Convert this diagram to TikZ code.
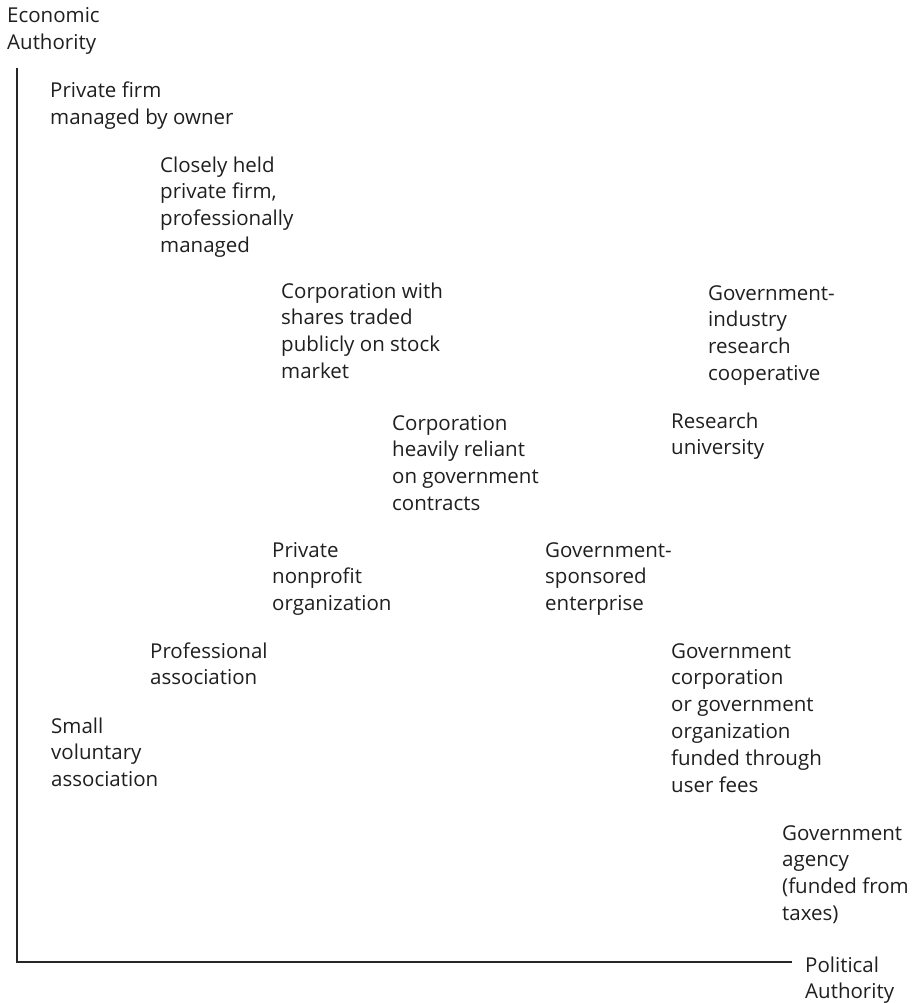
\documentclass[tikz,border=0pt]{standalone}
\usepackage{fontspec}
\setmainfont{Open Sans}
% stack of left-aligned lines whose reference point is the first baseline
\newcommand{\linestack}[1]{\vtop{\halign{##\hfil\cr#1\crcr}}}
\begin{document}
\begin{tikzpicture}[x=1pt,y=-1pt,
  lbl/.style={anchor=base west,inner sep=0pt,font=\fontsize{20.5}{26.8}\selectfont,text=black!88},
  axis/.style={line width=1.3pt,draw=black!85}]
\useasboundingbox (0,0) rectangle (914,1003);
% axes
\coordinate (top) at (17,68);
\coordinate (origin) at (17,962);
\coordinate (right) at (792,962);
\draw[axis] (top) -- (origin) -- (right);
% axis titles
\node[lbl] (econ) at (7,23) {\linestack{Economic\cr Authority}};
\node[lbl] (pol) at (805,972) {\linestack{Political\cr Authority}};
% organisations
\node[lbl] (owner) at (50,98) {\linestack{Private firm\cr managed by owner}};
\node[lbl] (closely) at (160,172) {\linestack{Closely held\cr private firm,\cr professionally\cr managed}};
\node[lbl] (corp) at (281,298) {\linestack{Corporation with\cr shares traded\cr publicly on stock\cr market}};
\node[lbl] (gic) at (708,300) {\linestack{Government-\cr industry\cr research\cr cooperative}};
\node[lbl] (reliant) at (392,430) {\linestack{Corporation\cr heavily reliant\cr on government\cr contracts}};
\node[lbl] (univ) at (671,428) {\linestack{Research\cr university}};
\node[lbl] (nonprofit) at (272,557) {\linestack{Private\cr nonprofit\cr organization}};
\node[lbl] (gse) at (545,557) {\linestack{Government-\cr sponsored\cr enterprise}};
\node[lbl] (prof) at (150,658) {\linestack{Professional\cr association}};
\node[lbl] (gcorp) at (671,658) {\linestack{Government\cr corporation\cr or government\cr organization\cr funded through\cr user fees}};
\node[lbl] (small) at (51,733) {\linestack{Small\cr voluntary\cr association}};
\node[lbl] (agency) at (782,840) {\linestack{Government\cr agency\cr (funded from\cr taxes)}};
\end{tikzpicture}
\end{document}
